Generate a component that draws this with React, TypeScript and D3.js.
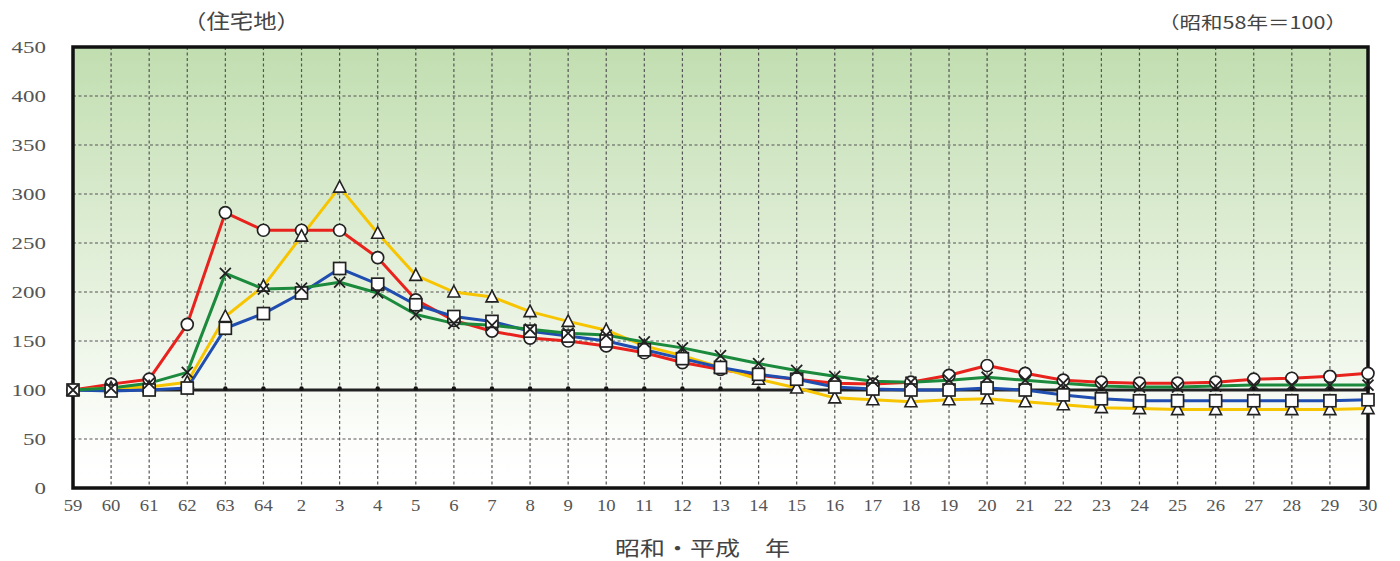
import React from "react";
import * as d3 from "d3";

const categories = ["59","60","61","62","63","64","2","3","4","5","6","7","8","9","10","11","12","13","14","15","16","17","18","19","20","21","22","23","24","25","26","27","28","29","30"];
const redValues = [100,106,111,167,281,263,263,263,235,192,171,160,153,150,145,138,128,121,115,111,107,106,108,115,125,117,110,108,107,107,108,111,112,114,117];
const yellowValues = [100,102,103,108,175,206,257,307,260,217,200,195,180,170,161,145,135,123,111,102,92,90,88,90,91,88,85,82,81,80,80,80,80,80,81];
const blueValues = [100,99,100,102,163,178,199,224,208,187,175,170,160,155,150,141,132,123,116,111,103,101,100,100,102,100,95,91,89,89,89,89,89,89,90];
const greenValues = [100,102,107,118,219,203,204,210,199,177,168,166,162,158,156,149,143,135,127,120,114,109,108,110,113,110,107,104,103,103,104,105,105,105,105];
const yTicks = [0,50,100,150,200,250,300,350,400,450];

const W = 1400, H = 561;
const L = 73, R = 1368, T = 47, B = 488;

type Series = { name: string; values: number[]; color: string; marker: "circle" | "triangle" | "square" | "x" };
const series: Series[] = [
  { name: "red", values: redValues, color: "#e8231e", marker: "circle" },
  { name: "yellow", values: yellowValues, color: "#f7c500", marker: "triangle" },
  { name: "blue", values: blueValues, color: "#1f4db0", marker: "square" },
  { name: "green", values: greenValues, color: "#1b8a3c", marker: "x" },
];

export default function App() {
  const x = d3.scalePoint<string>().domain(categories).range([L, R]);
  const y = d3.scaleLinear().domain([0, 450]).range([B, T]);
  const line = d3.line<number>().x((_, i) => x(categories[i])!).y((v) => y(v));
  const numFont = "'Liberation Serif', 'DejaVu Serif', serif";
  const cjkFont = "'Noto Sans CJK JP', sans-serif";

  const marker = (s: Series, v: number, i: number) => {
    const cx = x(categories[i])!;
    const cy = y(v);
    const k = `${s.name}-${i}`;
    if (s.marker === "circle")
      return <circle key={k} cx={cx} cy={cy} r={6} fill="#fff" stroke="#222" strokeWidth={1.7} />;
    if (s.marker === "square")
      return <rect key={k} x={cx - 6} y={cy - 6} width={12} height={12} fill="#fff" stroke="#222" strokeWidth={1.7} />;
    if (s.marker === "triangle") {
      const p = d3.path();
      p.moveTo(cx, cy - 6.5); p.lineTo(cx + 6, cy + 5); p.lineTo(cx - 6, cy + 5); p.closePath();
      return <path key={k} d={p.toString()} fill="#fff" stroke="#222" strokeWidth={1.6} />;
    }
    const p = d3.path();
    p.moveTo(cx - 5.5, cy - 5.5); p.lineTo(cx + 5.5, cy + 5.5); p.moveTo(cx + 5.5, cy - 5.5); p.lineTo(cx - 5.5, cy + 5.5);
    return <path key={k} d={p.toString()} fill="none" stroke="#222" strokeWidth={1.8} />;
  };

  return (
    <svg width={W} height={H} style={{ position: "absolute", left: 0, top: 0, background: "#fff" }}>
      <defs>
        <linearGradient id="bg" x1="0" y1="0" x2="0" y2="1">
          <stop offset="0%" stopColor="#c1deb0" />
          <stop offset="55%" stopColor="#e6f1de" />
          <stop offset="90%" stopColor="#fdfefc" />
          <stop offset="100%" stopColor="#ffffff" />
        </linearGradient>
      </defs>
      <rect x={L} y={T} width={R - L} height={B - T} fill="url(#bg)" />
      {yTicks.filter((t) => t !== 0 && t !== 450 && t !== 100).map((t) => (
        <line key={`h${t}`} x1={L} x2={R} y1={y(t)} y2={y(t)} stroke="#555" strokeWidth={1.2} strokeDasharray="3,2.5" />
      ))}
      {categories.slice(1, -1).map((c) => (
        <line key={`v${c}`} x1={x(c)} x2={x(c)} y1={T} y2={B} stroke="#555" strokeWidth={1.2} strokeDasharray="3,2.5" />
      ))}
      <line x1={L} x2={R} y1={y(100)} y2={y(100)} stroke="#222" strokeWidth={3} />
      {categories.map((c) => (
        <circle key={`d${c}`} cx={x(c)} cy={y(100) - 1.5} r={2.2} fill="#111" />
      ))}
      <rect x={L} y={T} width={R - L} height={B - T} fill="none" stroke="#111" strokeWidth={3.5} />
      {series.map((s) => (
        <path key={s.name} d={line(s.values)!} fill="none" stroke={s.color} strokeWidth={3} strokeLinejoin="round" />
      ))}
      {series.map((s) => (
        <g key={`m${s.name}`}>{s.values.map((v, i) => marker(s, v, i))}</g>
      ))}
      {yTicks.map((t) => (
        <text key={`yl${t}`} transform={`translate(46,${y(t)}) scale(1.35,1)`} dy="0.35em" textAnchor="end" fontFamily={numFont} fontSize={17} fill="#555">{t}</text>
      ))}
      {categories.map((c) => (
        <text key={`xl${c}`} transform={`translate(${x(c)},511) scale(1.1,1)`} textAnchor="middle" fontFamily={numFont} fontSize={17} fill="#555">{c}</text>
      ))}
      <text x={183} y={29} textLength={117} lengthAdjust="spacingAndGlyphs" fontFamily={cjkFont} fontSize={20} fill="#444">（住宅地）</text>
      <text x={1158} y={29} textLength={189} lengthAdjust="spacingAndGlyphs" fontFamily={cjkFont} fontSize={17} fill="#444">（昭和58年＝100）</text>
      <text x={615} y={556} textLength={175} lengthAdjust="spacingAndGlyphs" fontFamily={cjkFont} fontSize={20} fill="#444">昭和・平成　年</text>
    </svg>
  );
}
